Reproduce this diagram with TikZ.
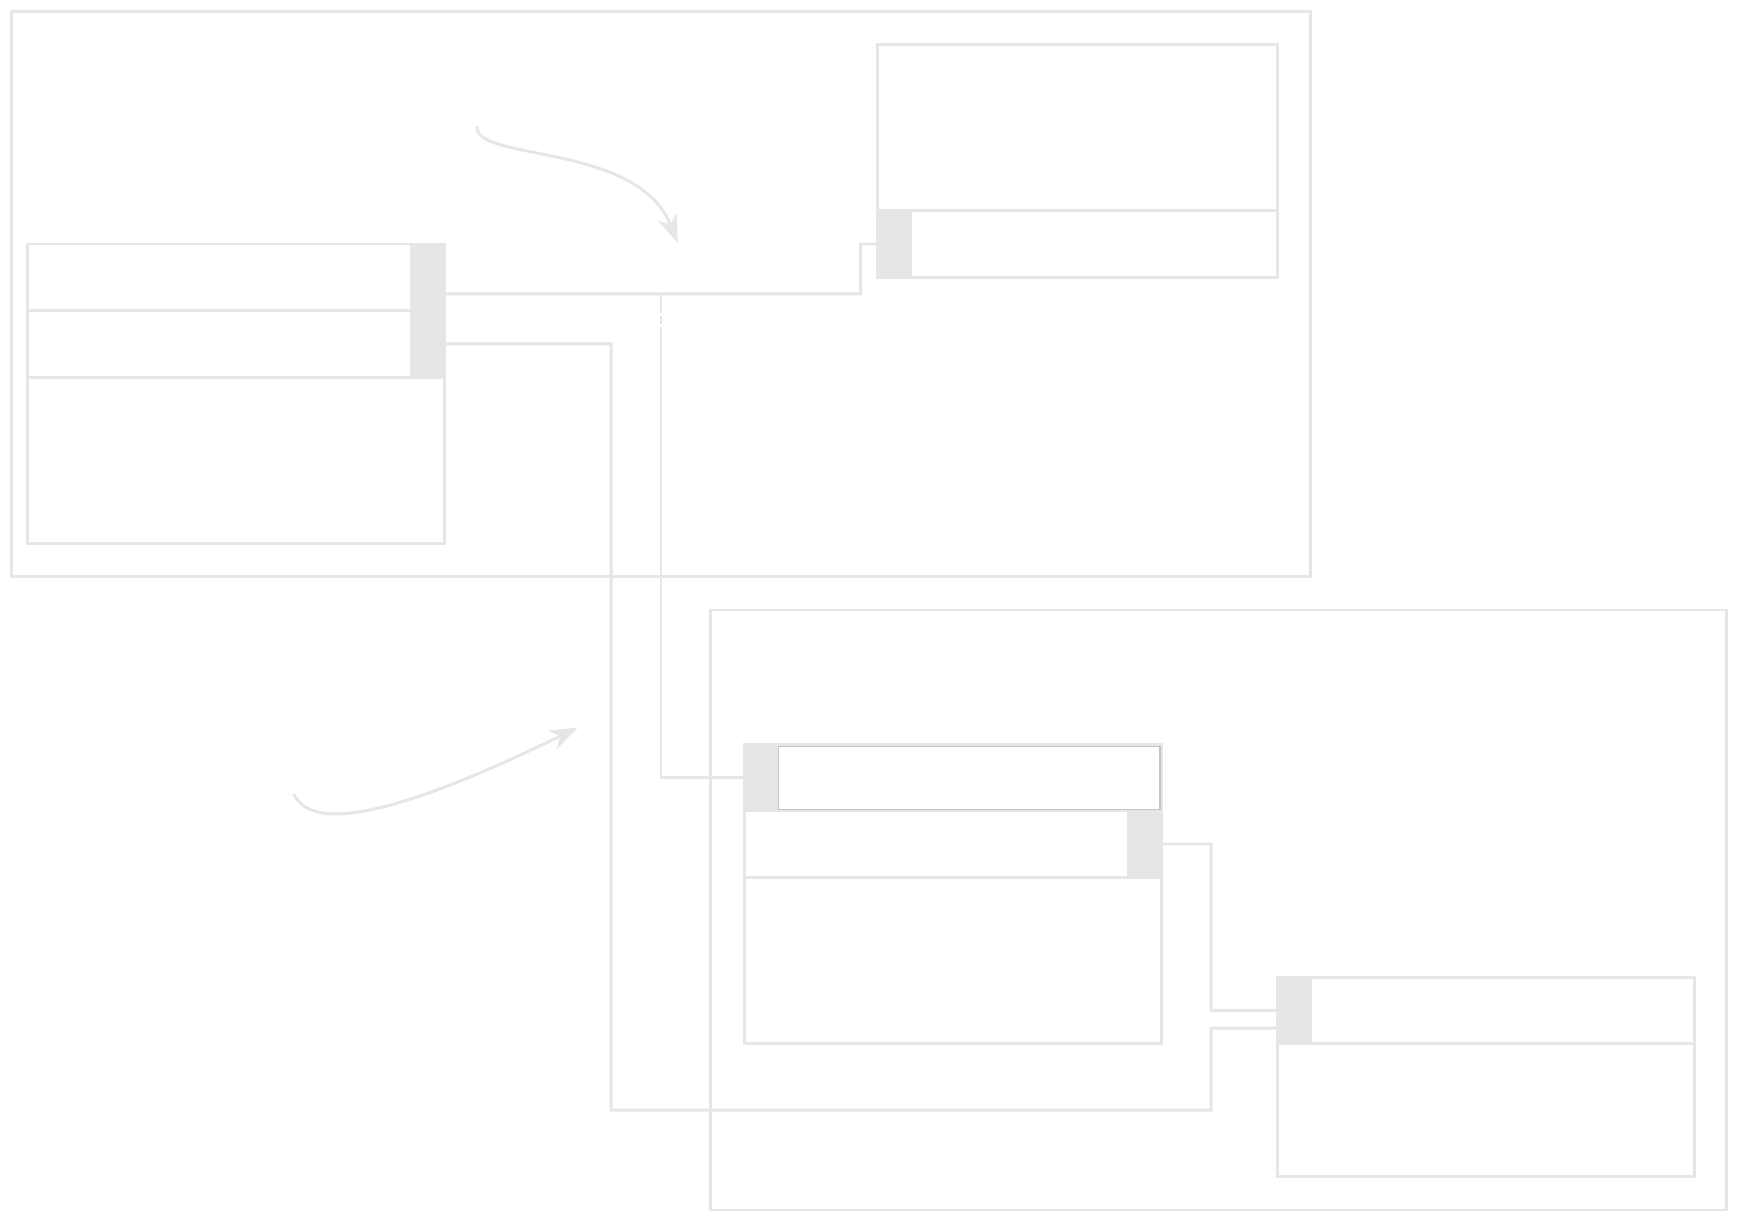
\documentclass[tikz,border=0pt]{standalone}
\usetikzlibrary{arrows.meta,calc}
\definecolor{lg}{HTML}{E6E6E6}
\definecolor{mg}{HTML}{C4C4C4}
\begin{document}
\begin{tikzpicture}[x=0.1mm,y=-0.1mm,
  ln/.style={draw=lg,line width=0.75pt},
  cell/.style={ln,rectangle,anchor=north west,inner sep=0pt,outer sep=0pt},
  keycell/.style={rectangle,anchor=north west,inner sep=0pt,outer sep=0pt,fill=lg,minimum width=3.1mm,minimum height=6mm},
  conn/.style={ln,line join=miter},
  arr/.style={ln,-{Stealth[length=2.5mm,width=1.8mm,inset=0.7mm]}}]
\useasboundingbox (0,0) rectangle (1568,1102);
\fill[white] (0,0) rectangle (1568,1102);
% frames
\node[cell,minimum width=117.2mm,minimum height=51mm] (frameA) at (10,10) {};
\node[cell,minimum width=91.6mm,minimum height=54.1mm] (frameB) at (641,550) {};
% left table
\node[cell,minimum width=37.6mm,minimum height=6mm] (t1r1) at (25,220) {};
\node[cell,minimum width=37.6mm,minimum height=6mm] (t1r2) at (25,280) {};
\node[cell,minimum width=37.6mm,minimum height=15mm] (t1b) at (25,340) {};
\node[keycell] (t1k1) at (370,220) {};
\node[keycell] (t1k2) at (370,280) {};
% top right table
\node[cell,minimum width=36.1mm,minimum height=15mm] (t2h) at (791,40) {};
\node[cell,minimum width=36.1mm,minimum height=6mm] (t2r1) at (791,190) {};
\node[keycell] (t2k1) at (791,190) {};
% middle table
\node[cell,minimum width=37.6mm,minimum height=6mm] (t3r1) at (671,671) {};
\node[cell,minimum width=37.6mm,minimum height=6mm] (t3r2) at (671,731) {};
\node[cell,minimum width=37.6mm,minimum height=15mm] (t3b) at (671,791) {};
\node[keycell] (t3k1) at (671,671) {};
\node[keycell] (t3k2) at (1016,731) {};
\node[rectangle,anchor=north west,inner sep=0pt,outer sep=0pt,draw=mg,line width=0.4pt,fill=white,minimum width=34.4mm,minimum height=5.7mm] (t3in) at (702,673) {};
% bottom right table
\node[cell,minimum width=37.6mm,minimum height=6mm] (t4r1) at (1152,881) {};
\node[cell,minimum width=37.6mm,minimum height=12mm] (t4b) at (1152,941) {};
\node[keycell] (t4k1) at (1152,881) {};
% connectors
\coordinate (j1) at (596,265);
\draw[conn] ([yshift=-1.5mm]t1k1.east) -- (j1) -- (776,265) -- (776,220) -- (t2k1.west);
\draw[conn] (j1) |- (t3k1.west);
\draw[white,line width=1pt] (596,282) -- (596,285) (596,292) -- (596,295);
\draw[conn] (t1k2.east) -- (551,310) -- (551,1001) -- (1092,1001) -- (1092,927) -- ([yshift=-1.6mm]t4k1.west);
\draw[conn] (t3k2.east) -- (1092,761) -- (1092,911) -- (t4k1.west);
% curved arrows
\coordinate (a1s) at (430,114);
\coordinate (a1e) at (611,219);
\draw[arr] (a1s) .. controls (428,146) and (575,128) .. (a1e);
\coordinate (a2s) at (265,716);
\coordinate (a2e) at (521,656);
\draw[arr] (a2s) .. controls (285,760) and (400,715) .. (a2e);
\end{tikzpicture}
\end{document}
